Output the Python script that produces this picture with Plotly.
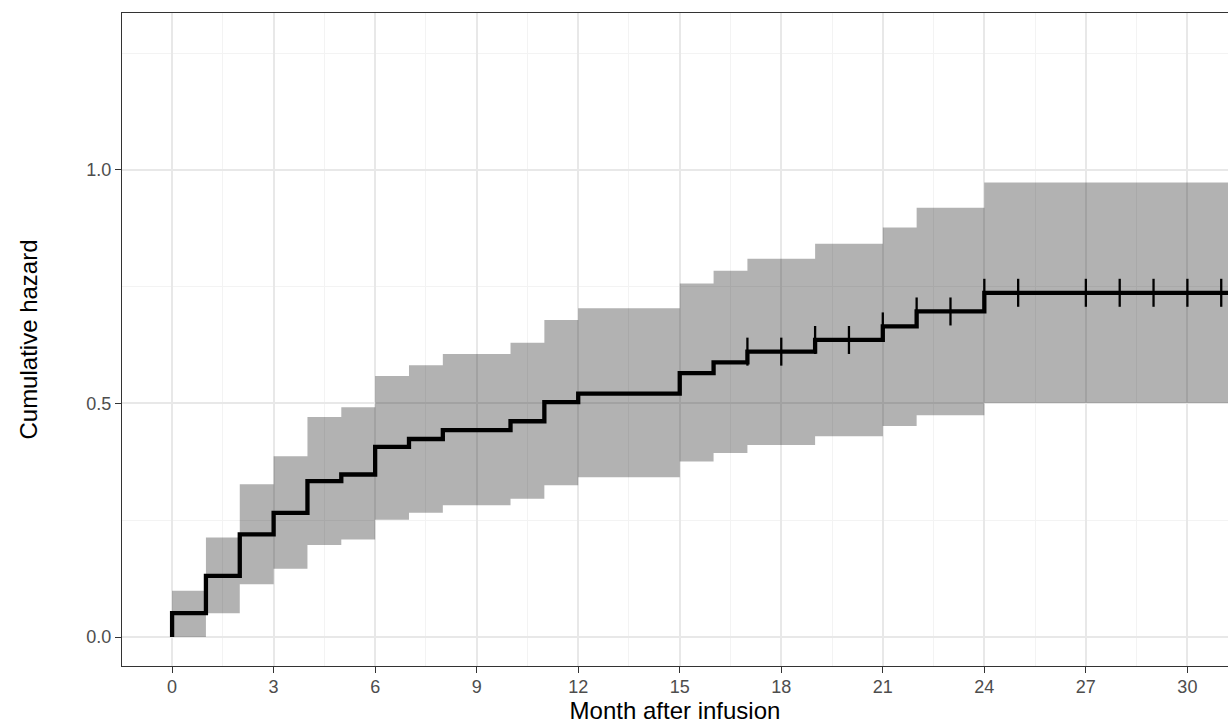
import plotly.graph_objects as go

# Event times (months) where the cumulative hazard steps up
times = [0, 1, 2, 3, 4, 5, 6, 7, 8, 10, 11, 12, 15, 16, 17, 19, 21, 22, 24]
hazard = [0.051, 0.131, 0.220, 0.266, 0.334, 0.348, 0.407, 0.424, 0.443, 0.462,
          0.503, 0.521, 0.565, 0.588, 0.611, 0.636, 0.665, 0.697, 0.737]
upper = [0.099, 0.213, 0.327, 0.387, 0.471, 0.492, 0.559, 0.582, 0.606, 0.630,
         0.679, 0.704, 0.757, 0.784, 0.810, 0.842, 0.877, 0.919, 0.973]
lower = [0.000, 0.051, 0.113, 0.146, 0.197, 0.209, 0.251, 0.266, 0.282, 0.296,
         0.325, 0.342, 0.376, 0.394, 0.411, 0.430, 0.452, 0.475, 0.501]
end_time = 31.2
censor_times = [17, 18, 19, 20, 21, 22, 23, 24, 25, 27, 28, 29, 30, 31]
x_ticks = [0, 3, 6, 9, 12, 15, 18, 21, 24, 27, 30]
y_ticks = [0.0, 0.5, 1.0]
y_ticktext = ["0.0", "0.5", "1.0"]


def step_value(t):
    v = 0.0
    for ti, hi in zip(times, hazard):
        if ti <= t:
            v = hi
    return v


band_x = times + [end_time]
line_x = [0] + times + [end_time]
line_y = [0] + hazard + [hazard[-1]]

fig = go.Figure()
fig.add_trace(go.Scatter(x=band_x, y=lower + [lower[-1]], mode="lines",
                         line=dict(shape="hv", width=0, color="rgba(0,0,0,0)"),
                         showlegend=False, hoverinfo="skip"))
fig.add_trace(go.Scatter(x=band_x, y=upper + [upper[-1]], mode="lines",
                         line=dict(shape="hv", width=0, color="rgba(0,0,0,0)"),
                         fill="tonexty", fillcolor="rgba(0,0,0,0.30)",
                         showlegend=False, hoverinfo="skip"))
fig.add_trace(go.Scatter(x=line_x, y=line_y, mode="lines",
                         line=dict(shape="hv", width=4.3, color="black"),
                         showlegend=False))
fig.add_trace(go.Scatter(x=censor_times, y=[step_value(t) for t in censor_times],
                         mode="markers",
                         marker=dict(symbol="line-ns", size=20,
                                     line=dict(width=2.3, color="black")),
                         showlegend=False))

font_family = "Liberation Sans, Arial, sans-serif"
fig.update_layout(
    width=1228, height=726,
    margin=dict(l=122, r=0, t=13, b=60),
    plot_bgcolor="white", paper_bgcolor="white",
    font=dict(family=font_family),
    xaxis=dict(
        range=[-1.48, 31.2], tickvals=x_ticks,
        ticks="outside", ticklen=6, tickwidth=1.3, tickcolor="#333333",
        showline=True, linecolor="#333333", linewidth=1.3, mirror=True,
        showgrid=True, gridcolor="#E8E8E8", gridwidth=1.5, zeroline=False,
        minor=dict(tick0=0, dtick=1.5, showgrid=True, gridcolor="#F3F3F3", gridwidth=1),
        tickfont=dict(size=18, color="#4D4D4D"),
        ticklabelstandoff=-2,
        title=dict(text="Month after infusion", font=dict(size=24, color="black"), standoff=6),
    ),
    yaxis=dict(
        range=[-0.062, 1.336], tickvals=y_ticks, ticktext=y_ticktext,
        ticks="outside", ticklen=6, tickwidth=1.3, tickcolor="#333333",
        showline=True, linecolor="#333333", linewidth=1.3, mirror=False,
        showgrid=True, gridcolor="#E8E8E8", gridwidth=1.5, zeroline=False,
        minor=dict(tick0=0, dtick=0.25, showgrid=True, gridcolor="#F3F3F3", gridwidth=1),
        tickfont=dict(size=18, color="#4D4D4D"),
        title=dict(text="Cumulative hazard", font=dict(size=24, color="black"), standoff=41),
    ),
)

fig.write_html(
    "out.html",
    config={"displayModeBar": False},
    post_script="document.body.style.margin='0';document.body.style.overflow='hidden';",
)
